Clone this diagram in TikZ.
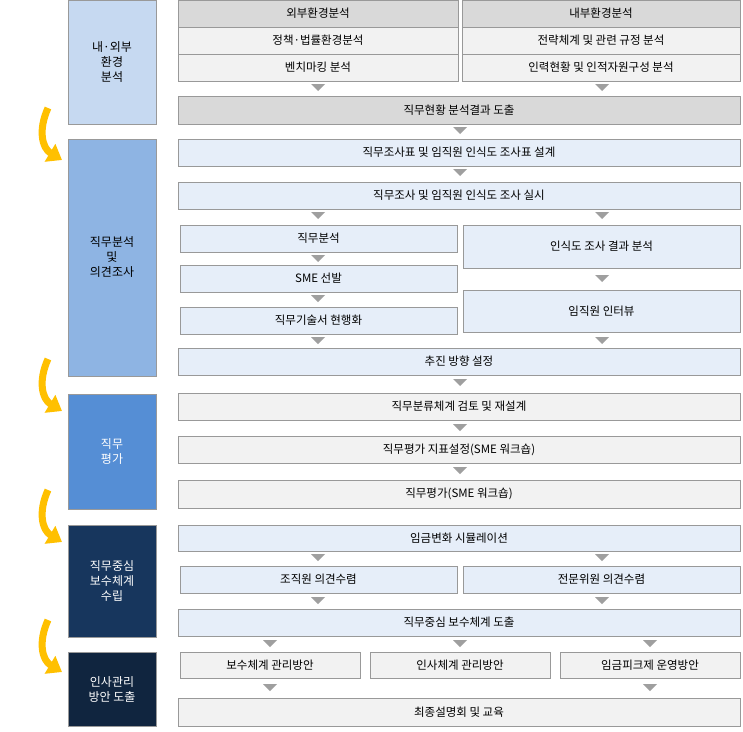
\documentclass[tikz,border=0pt]{standalone}
\usepackage{fontspec}
\setmainfont{Noto Sans CJK KR}
\usetikzlibrary{arrows.meta}
\definecolor{ph1}{HTML}{C6D9F1}
\definecolor{ph2}{HTML}{8EB4E3}
\definecolor{ph3}{HTML}{558ED5}
\definecolor{ph4}{HTML}{17365D}
\definecolor{ph5}{HTML}{10253F}
\definecolor{gdark}{HTML}{D9D9D9}
\definecolor{glight}{HTML}{F2F2F2}
\definecolor{blight}{HTML}{E6EEF9}
\definecolor{yel}{HTML}{FFC000}
\begin{document}
\begin{tikzpicture}[x=1pt,y=-1pt,font=\fontsize{11.5}{14}\selectfont,
  bx/.style={draw=gray!80,line width=0.8pt},
  ph/.style={bx,align=center},
  tri/.style={fill=gray!75,draw=none}]
\useasboundingbox (0,0) rectangle (743,731);
\newcommand\bbox[6]{\filldraw[bx,fill=#5] (#1,#2) rectangle (#3,#4) node[midway,text=black] {#6};}
\newcommand\tr[2]{\fill[tri] (#1-7,#2-4) -- (#1+7,#2-4) -- (#1,#2+3) -- cycle;}
% phase boxes
\filldraw[bx,fill=ph1] (68,0) rectangle (156,124) node[midway,align=center,text=black,font=\fontsize{12}{15}\selectfont] {내·외부\\환경\\분석};
\filldraw[bx,fill=ph2] (68,139) rectangle (156,376) node[midway,align=center,text=black,font=\fontsize{12}{15}\selectfont] {직무분석\\및\\의견조사};
\filldraw[bx,fill=ph3] (68,394) rectangle (156,509) node[midway,align=center,text=white,font=\fontsize{12}{15}\selectfont] {직무\\평가};
\filldraw[bx,fill=ph4] (68,525) rectangle (156,637) node[midway,align=center,text=white,font=\fontsize{12}{15}\selectfont] {직무중심\\보수체계\\수립};
\filldraw[bx,fill=ph5] (68,652) rectangle (156,726) node[midway,align=center,text=white,font=\fontsize{12}{15}\selectfont] {인사관리\\방안 도출};
% yellow arrows
\foreach \y in {108,359,490,620}{
  \draw[yel,line width=7pt,-{Triangle[length=14pt,width=20pt]}] (48,\y) .. controls (38,\y+22) and (42,\y+40) .. (62,\y+52);
}
% phase 1
\bbox{178}{0}{458}{27}{gdark}{외부환경분석}
\bbox{462}{0}{740}{27}{gdark}{내부환경분석}
\bbox{178}{27}{458}{54}{glight}{정책·법률환경분석}
\bbox{462}{27}{740}{54}{glight}{전략체계 및 관련 규정 분석}
\bbox{178}{54}{458}{81}{glight}{벤치마킹 분석}
\bbox{462}{54}{740}{81}{glight}{인력현황 및 인적자원구성 분석}
\tr{318}{88}\tr{602}{88}
\bbox{178}{96}{740}{124}{gdark}{직무현황 분석결과 도출}
\tr{460}{131}
% phase 2
\bbox{178}{139}{740}{166}{blight}{직무조사표 및 임직원 인식도 조사표 설계}
\tr{460}{173}
\bbox{178}{182}{740}{209}{blight}{직무조사 및 임직원 인식도 조사 실시}
\tr{318}{216}\tr{602}{216}
\bbox{180}{225}{457}{252}{blight}{직무분석}
\tr{318}{259}
\bbox{180}{265}{457}{292}{blight}{SME 선발}
\tr{318}{299}
\bbox{180}{307}{457}{334}{blight}{직무기술서 현행화}
\bbox{463}{225}{740}{268}{blight}{인식도 조사 결과 분석}
\tr{602}{279}
\bbox{463}{290}{740}{332}{blight}{임직원 인터뷰}
\tr{318}{341}\tr{602}{341}
\bbox{178}{348}{740}{375}{blight}{추진 방향 설정}
\tr{460}{383}
% phase 3
\bbox{178}{393}{740}{420}{glight}{직무분류체계 검토 및 재설계}
\tr{460}{428}
\bbox{178}{436}{740}{463}{glight}{직무평가 지표설정(SME 워크숍)}
\tr{460}{471}
\bbox{178}{480}{740}{508}{glight}{직무평가(SME 워크숍)}
% phase 4
\bbox{178}{525}{740}{551}{blight}{임금변화 시뮬레이션}
\tr{318}{558}\tr{602}{558}
\bbox{180}{566}{457}{593}{blight}{조직원 의견수렴}
\bbox{463}{566}{740}{593}{blight}{전문위원 의견수렴}
\tr{318}{601}\tr{602}{601}
\bbox{178}{609}{740}{636}{blight}{직무중심 보수체계 도출}
\tr{270}{644}\tr{460}{644}\tr{650}{644}
% phase 5
\bbox{180}{652}{360}{678}{glight}{보수체계 관리방안}
\bbox{370}{652}{550}{678}{glight}{인사체계 관리방안}
\bbox{560}{652}{740}{678}{glight}{임금피크제 운영방안}
\tr{270}{688}\tr{650}{688}
\bbox{178}{698}{740}{726}{glight}{최종설명회 및 교육}
\end{tikzpicture}
\end{document}
